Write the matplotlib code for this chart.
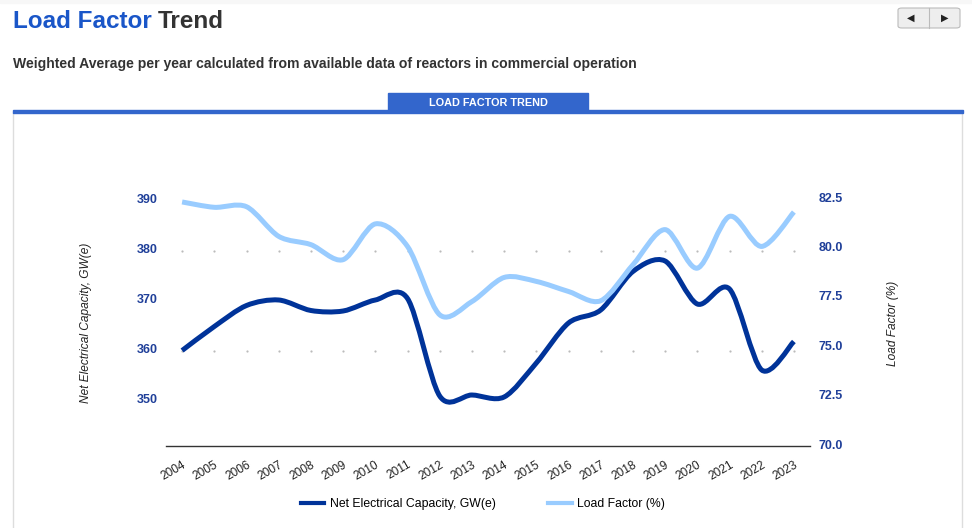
import numpy as np
import matplotlib.pyplot as plt
import matplotlib.transforms as mtransforms
from matplotlib.path import Path
from matplotlib.patches import PathPatch, Rectangle, FancyBboxPatch
from matplotlib.lines import Line2D

plt.rcParams['font.family'] = ['Liberation Sans', 'DejaVu Sans']

# datos
years = list(range(2004, 2024))
capacity = [360.0, 364.8, 369.0, 370.1, 368.0, 367.9, 370.1, 370.4, 350.9, 351.1,
            350.7, 357.5, 365.5, 368.1, 375.8, 377.9, 369.3, 372.3, 356.1, 361.8]
load_factor = [82.35, 82.08, 82.11, 80.61, 80.19, 79.43, 81.24, 80.10, 76.64, 77.31,
               78.53, 78.33, 77.82, 77.35, 79.17, 80.95, 79.00, 81.62, 80.10, 81.84]
left_ticks = [350, 360, 370, 380, 390]
right_ticks = [70.0, 72.5, 75.0, 77.5, 80.0, 82.5]
grid_levels = [360, 380]

W, H = 972, 528
DARK = '#003399'
LIGHT = '#99ccff'
TICK_COL = '#1f3f99'


def px(x, y):
    return x / W, 1 - y / H


# curva suave tipo catmull-rom (como curveType 'function')
def smooth_path(x, y, k=0.15):
    x = np.asarray(x, float)
    y = np.asarray(y, float)
    n = len(x)
    verts = [(x[0], y[0])]
    codes = [Path.MOVETO]
    for i in range(n - 1):
        i0 = max(i - 1, 0)
        i3 = min(i + 2, n - 1)
        c1 = (x[i] + (x[i + 1] - x[i0]) * k, y[i] + (y[i + 1] - y[i0]) * k)
        c2 = (x[i + 1] - (x[i3] - x[i]) * k, y[i + 1] - (y[i3] - y[i]) * k)
        verts += [c1, c2, (x[i + 1], y[i + 1])]
        codes += [Path.CURVE4] * 3
    return Path(verts, codes)


fig = plt.figure(figsize=(W / 100, H / 100), dpi=100)

# cabecera
fig.patches.append(Rectangle(px(0, 3), 1, 3 / H, transform=fig.transFigure,
                             color='#f7f7f7', zorder=0))
t1 = fig.text(*px(13, 21), 'Load Factor', color='#1a56c8', fontsize=17.5,
              fontweight='bold', va='center', ha='left')
fig.canvas.draw()
bb = t1.get_window_extent()
fig.text(bb.x1 / W + 6 / W, px(0, 21)[1], 'Trend', color='#333333', fontsize=17.5,
         fontweight='bold', va='center', ha='left')
fig.text(*px(13, 64), 'Weighted Average per year calculated from available data of reactors in commercial operation',
         color='#333333', fontsize=10.1, fontweight='bold', va='center', ha='left')

# botones
fig.patches.append(FancyBboxPatch(px(898, 28), 62 / W, 20 / H, boxstyle='round,pad=0,rounding_size=0.004',
                                  transform=fig.transFigure, facecolor='#eeeeee',
                                  edgecolor='#bbbbbb', lw=0.8))
fig.add_artist(Line2D([929 / W, 929 / W], [px(0, 8)[1], px(0, 28)[1]], color='#bbbbbb', lw=0.8))
fig.text(*px(911, 18), '\u25C0', fontsize=7, ha='center', va='center', color='#222222')
fig.text(*px(945, 18), '\u25B6', fontsize=7, ha='center', va='center', color='#222222')

# panel y pestaña
fig.patches.append(Rectangle(px(13, 540), 949 / W, 428 / H, transform=fig.transFigure,
                             facecolor='white', edgecolor='#dddddd', lw=1, zorder=0))
fig.patches.append(Rectangle(px(13, 112.5), 950 / W, 3 / H, transform=fig.transFigure,
                             color='#3366cc', zorder=1))
fig.patches.append(Rectangle(px(388, 111), 200 / W, 18 / H, transform=fig.transFigure,
                             color='#3366cc', zorder=1))
fig.text(*px(488, 103), 'LOAD FACTOR TREND', color='white', fontsize=7.8,
         fontweight='bold', ha='center', va='center')

# ejes
ax = fig.add_axes([166 / W, (H - 446) / H, 644 / W, 247 / H])
ax2 = ax.twinx()
ax.set_zorder(5)
ax2.set_zorder(6)
ax.set_xlim(2003.5, 2023.5)
ax.set_ylim(340.9, 390.3)
ax2.set_ylim(70, 82.5)

for a in (ax, ax2):
    a.patch.set_visible(False)
    for s in a.spines.values():
        s.set_visible(False)
ax.spines['bottom'].set_visible(True)
ax.spines['bottom'].set_color('#333333')
ax.spines['bottom'].set_linewidth(1)

# rejilla punteada
for lv in grid_levels:
    ax.scatter(years, [lv] * len(years), s=2.5, color='#bbbbbb', zorder=1, lw=0)

ax.add_patch(PathPatch(smooth_path(years, capacity), fill=False, edgecolor=DARK,
                       lw=3.6, capstyle='butt', joinstyle='round', zorder=3))
ax2.add_patch(PathPatch(smooth_path(years, load_factor), fill=False, edgecolor=LIGHT,
                        lw=3.6, capstyle='butt', joinstyle='round', zorder=3))

ax.set_xticks(years)
ax.set_xticklabels([str(y) for y in years], rotation=30, ha='right', va='top',
                   fontsize=8.6, color='#222222', rotation_mode='anchor')
ax.tick_params(axis='x', length=0, pad=9)

ax.set_yticks(left_ticks)
ax.set_yticklabels([str(v) for v in left_ticks], fontsize=9, fontweight='bold', color=TICK_COL)
ax.tick_params(axis='y', length=0, pad=6)
ax2.set_yticks(right_ticks)
ax2.set_yticklabels([f'{v:.1f}' for v in right_ticks], fontsize=9, fontweight='bold', color=TICK_COL)
ax2.tick_params(axis='y', length=0, pad=6)

# subir un poco las etiquetas del eje y (2 px)
up = mtransforms.ScaledTranslation(0, 2 / 100, fig.dpi_scale_trans)
for lbl in ax.get_yticklabels() + ax2.get_yticklabels():
    lbl.set_transform(lbl.get_transform() + up)

fig.text(*px(86, 323), 'Net Electrical Capacity, GW(e)', rotation=90, style='italic',
         fontsize=8.6, color='#222222', ha='center', va='center')
fig.text(*px(893, 323), 'Load Factor (%)', rotation=90, style='italic',
         fontsize=8.6, color='#222222', ha='center', va='center')

# leyenda
handles = [Line2D([], [], color=DARK, lw=3), Line2D([], [], color=LIGHT, lw=3)]
fig.legend(handles, ['Net Electrical Capacity, GW(e)', 'Load Factor (%)'],
           loc='center', bbox_to_anchor=px(483, 504), ncol=2, frameon=False,
           fontsize=8.8, handlelength=1.9, handletextpad=0.45, columnspacing=4.3)

plt.savefig('out.png', dpi=100)
